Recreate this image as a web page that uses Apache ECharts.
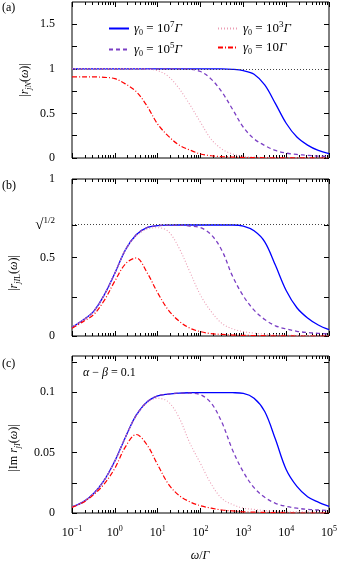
<!DOCTYPE html>
<html>
<head>
<meta charset="utf-8">
<script src="https://cdn.jsdelivr.net/npm/echarts@6/dist/echarts.min.js"></script>
<style>
  html, body { margin: 0; padding: 0; background: #fff; }
  #chart { width: 340px; height: 564px; }
</style>
</head>
<body>
<div id="chart"></div>
<script>
// frequency grid (omega / Gamma), quarter decades
const omega = [0.1, 0.178, 0.316, 0.562, 1, 1.78, 3.16, 5.62, 10, 17.8, 31.6, 56.2,
  100, 178, 316, 562, 1000, 1780, 3160, 5620, 10000, 17800, 31600, 56200, 100000];

const gammaNames = ['γ0 = 10^7 Γ', 'γ0 = 10^5 Γ', 'γ0 = 10^3 Γ', 'γ0 = 10 Γ'];

// (a) |r_jN(omega)|
const rjN_g7 = [1, 1, 1, 1, 1, 1, 1, 1, 1, 1, 1, 1, 1, 1, 1, 0.995, 0.98, 0.94, 0.82, 0.61, 0.39, 0.235, 0.145, 0.085, 0.05];
const rjN_g5 = [1, 1, 1, 1, 1, 1, 1, 1, 1, 1, 1, 0.995, 0.97, 0.885, 0.74, 0.545, 0.345, 0.215, 0.14, 0.085, 0.055, 0.04, 0.03, 0.022, 0.016];
const rjN_g3 = [1, 1, 1, 1, 1, 1, 1, 0.995, 0.98, 0.915, 0.78, 0.6, 0.4, 0.21, 0.1, 0.045, 0.02, 0.01, 0.006, 0.004, 0.003, 0.002, 0.002, 0.001, 0.001];
const rjN_g1 = [0.91, 0.91, 0.91, 0.905, 0.89, 0.83, 0.745, 0.585, 0.38, 0.245, 0.145, 0.09, 0.045, 0.025, 0.015, 0.01, 0.006, 0.004, 0.003, 0.002, 0.001, 0.001, 0.001, 0, 0];

// (b) |r_jIL(omega)|
const rjIL_g7 = [0.055, 0.1, 0.155, 0.26, 0.4, 0.55, 0.645, 0.69, 0.703, 0.706, 0.707, 0.707, 0.707, 0.707, 0.707, 0.707, 0.7, 0.67, 0.6, 0.45, 0.29, 0.18, 0.115, 0.07, 0.04];
const rjIL_g5 = [0.055, 0.1, 0.155, 0.26, 0.4, 0.55, 0.645, 0.69, 0.703, 0.706, 0.706, 0.7, 0.69, 0.645, 0.545, 0.38, 0.255, 0.165, 0.105, 0.065, 0.045, 0.03, 0.022, 0.017, 0.013];
const rjIL_g3 = [0.055, 0.1, 0.155, 0.26, 0.4, 0.55, 0.635, 0.68, 0.69, 0.665, 0.56, 0.41, 0.26, 0.155, 0.08, 0.045, 0.028, 0.018, 0.012, 0.008, 0.005, 0.004, 0.003, 0.002, 0.002];
const rjIL_g1 = [0.05, 0.09, 0.135, 0.225, 0.35, 0.46, 0.497, 0.405, 0.275, 0.165, 0.095, 0.05, 0.028, 0.015, 0.01, 0.006, 0.004, 0.003, 0.002, 0.001, 0.001, 0, 0, 0, 0];

// (c) |Im r_jI(omega)|, alpha - beta = 0.1
const imrjI_g7 = [0.005, 0.009, 0.016, 0.027, 0.043, 0.063, 0.081, 0.092, 0.097, 0.0985, 0.0993, 0.0996, 0.0997, 0.0997, 0.0997, 0.0996, 0.099, 0.095, 0.084, 0.061, 0.036, 0.022, 0.0135, 0.009, 0.0055];
const imrjI_g5 = [0.005, 0.009, 0.016, 0.027, 0.043, 0.063, 0.081, 0.092, 0.097, 0.0985, 0.0993, 0.0992, 0.098, 0.091, 0.075, 0.052, 0.034, 0.021, 0.013, 0.008, 0.0055, 0.004, 0.003, 0.0025, 0.002];
const imrjI_g3 = [0.005, 0.009, 0.016, 0.027, 0.043, 0.063, 0.08, 0.091, 0.095, 0.092, 0.079, 0.058, 0.041, 0.024, 0.012, 0.007, 0.004, 0.003, 0.002, 0.0015, 0.001, 0.001, 0.001, 0.0005, 0.0005];
const imrjI_g1 = [0.0047, 0.0085, 0.015, 0.024, 0.037, 0.055, 0.065, 0.0565, 0.04, 0.024, 0.0145, 0.0093, 0.006, 0.004, 0.0025, 0.0017, 0.001, 0.0007, 0.0005, 0.0003, 0.0002, 0, 0, 0, 0];

// axis ticks
const xTickExponents = [-1, 0, 1, 2, 3, 4, 5];
const xMinorSteps = [2, 3, 4, 5, 6, 7, 8, 9];
const yTicksA = [0, 0.25, 0.5, 0.75, 1, 1.25, 1.5];
const yLabelsA = [0, 0.5, 1, 1.5];
const yTicksB = [0, 0.25, 0.5, Math.SQRT1_2, 1];
const yLabelsB = [0, 0.5, Math.SQRT1_2, 1];
const yTicksC = [0, 0.025, 0.05, 0.075, 0.1, 0.125];
const yLabelsC = [0, 0.05, 0.1];
const refLevels = [1, Math.SQRT1_2, null];

const serif = "'Liberation Serif', 'DejaVu Serif', serif";
const rich = {
  i: { fontFamily: serif, fontStyle: 'italic', fontSize: 12, lineHeight: 16, color: '#000' },
  n: { fontFamily: serif, fontSize: 12, lineHeight: 16, color: '#000' },
  li: { fontFamily: serif, fontStyle: 'italic', fontSize: 13, lineHeight: 17, color: '#000' },
  ln: { fontFamily: serif, fontSize: 13, lineHeight: 17, color: '#000' },
  rad: { fontFamily: serif, fontSize: 15, lineHeight: 17, color: '#000' },
  sub: { fontFamily: serif, fontSize: 8, lineHeight: 10, verticalAlign: 'bottom', color: '#000' },
  isub: { fontFamily: serif, fontStyle: 'italic', fontSize: 8, lineHeight: 10, verticalAlign: 'bottom', color: '#000' },
  sup: { fontFamily: serif, fontSize: 8, lineHeight: 10, verticalAlign: 'top', color: '#000' },
  lsup: { fontFamily: serif, fontSize: 9, lineHeight: 11, verticalAlign: 'top', color: '#000' }
};

const panels = [
  { top: 2, height: 156, max: 1.75, ticks: yTicksA, labels: yLabelsA, curves: [rjN_g7, rjN_g5, rjN_g3, rjN_g1] },
  { top: 179, height: 157, max: 1, ticks: yTicksB, labels: yLabelsB, curves: [rjIL_g7, rjIL_g5, rjIL_g3, rjIL_g1] },
  { top: 356, height: 157, max: 0.13, ticks: yTicksC, labels: yLabelsC, curves: [imrjI_g7, imrjI_g5, imrjI_g3, imrjI_g1] }
];

const lineStyles = [
  { color: '#0000ff', type: 'solid', width: 1.3 },
  { color: '#7b3fc4', type: [4, 3], width: 1.3 },
  { color: '#eb9db4', type: [1, 2], width: 1.1 },
  { color: '#ff0000', type: [5, 2, 1, 2], width: 1.2 }
];

const xMinorTicks = [];
xTickExponents.slice(0, -1).forEach(e => {
  xMinorSteps.forEach(m => xMinorTicks.push(e + Math.log10(m)));
});

function expLabel (v) {
  const e = v < 0 ? '−' + (-v) : String(v);
  return '{n|10}{sup|' + e + '}';
}

function yLabel (v) {
  if (Math.abs(v - Math.SQRT1_2) < 1e-9) return '{rad|√}{lsup|1/2}';
  return '{n|' + String(v) + '}';
}

function legendLabel (name) {
  const m = name.match(/10\^?(\d*) Γ/);
  return '{li|γ}{sub|0}{ln| = 10}' + (m[1] ? '{lsup|' + m[1] + '}' : '') + '{li|Γ}';
}

const grid = [], xAxis = [], yAxis = [], series = [];
const tickLine = { color: '#000', width: 1 };

panels.forEach((p, pi) => {
  grid.push({ left: 72, right: 11, top: p.top, height: p.height, show: true, borderColor: '#000', borderWidth: 1 });
  const xi = xAxis.length;
  // data axis (log)
  xAxis.push({ type: 'log', gridIndex: pi, min: 0.1, max: 100000, logBase: 10, show: false });
  // tick axes in log10 space
  ['bottom', 'top'].forEach(pos => {
    xAxis.push({
      type: 'value', gridIndex: pi, position: pos, min: -1, max: 5, interval: 1,
      axisLine: { show: false, onZero: false }, splitLine: { show: false },
      axisTick: { inside: true, length: 5, lineStyle: tickLine },
      axisLabel: {
        show: pos === 'bottom' && pi === 2, margin: 12,
        formatter: expLabel, rich: rich
      }
    });
    xAxis.push({
      type: 'value', gridIndex: pi, position: pos, min: -1, max: 5,
      axisLine: { show: false, onZero: false }, splitLine: { show: false },
      axisTick: { inside: true, length: 3, lineStyle: tickLine, customValues: xMinorTicks },
      axisLabel: { show: false }
    });
  });
  const yi = yAxis.length;
  ['left', 'right'].forEach(pos => {
    yAxis.push({
      type: 'value', gridIndex: pi, position: pos, min: 0, max: p.max,
      axisLine: { show: false, onZero: false }, splitLine: { show: false },
      axisTick: { inside: true, length: 5, lineStyle: tickLine, customValues: p.ticks },
      axisLabel: {
        show: pos === 'left', customValues: p.labels, margin: 17,
        formatter: yLabel, rich: rich
      }
    });
  });
  p.curves.forEach((vals, ci) => {
    const s = {
      name: gammaNames[ci], type: 'line', xAxisIndex: xi, yAxisIndex: yi,
      data: omega.map((w, k) => [w, vals[k]]),
      smooth: 0.35, symbol: 'none', clip: true,
      lineStyle: lineStyles[ci], itemStyle: { color: lineStyles[ci].color },
      z: 3 + ci
    };
    if (ci === 0 && refLevels[pi] !== null) {
      s.markLine = {
        silent: true, symbol: 'none', label: { show: false },
        lineStyle: { color: '#444', type: [1, 2], width: 1 },
        data: [{ yAxis: refLevels[pi] }]
      };
    }
    series.push(s);
  });
});

function vText (x, y, text) {
  return {
    type: 'text', x: x, y: y, rotation: Math.PI / 2,
    style: { text: text, rich: rich, align: 'center', verticalAlign: 'middle' }
  };
}

function hText (x, y, text, align) {
  return {
    type: 'text', x: x, y: y,
    style: { text: text, rich: rich, align: align || 'left', verticalAlign: 'middle' }
  };
}

const legendCommon = {
  orient: 'vertical', itemWidth: 20, itemHeight: 10, itemGap: 4,
  formatter: legendLabel, textStyle: { rich: rich },
  itemStyle: { opacity: 0 }
};

const chart = echarts.init(document.getElementById('chart'));
chart.setOption({
  animation: false,
  backgroundColor: '#fff',
  grid: grid,
  xAxis: xAxis,
  yAxis: yAxis,
  legend: [
    Object.assign({ left: 103, top: 15, data: [gammaNames[0], gammaNames[1]] }, legendCommon),
    Object.assign({ left: 212, top: 15, data: [gammaNames[2], gammaNames[3]] }, legendCommon)
  ],
  graphic: [
    hText(2, 8, '{n|(a)}'),
    hText(2, 186, '{n|(b)}'),
    hText(2, 364, '{n|(c)}'),
    vText(25, 80, '{n||}{i|r}{isub|jN}{n|(}{i|ω}{n|)|}'),
    vText(14, 273, '{n||}{i|r}{isub|jI}{sub|L}{n|(}{i|ω}{n|)|}'),
    vText(14, 448, '{n||Im }{i|r}{isub|jI}{n|(}{i|ω}{n|)|}'),
    hText(83, 373, '{i|α}{n| − }{i|β}{n| = 0.1}'),
    hText(200, 556, '{i|ω}{n|/}{i|Γ}', 'center')
  ],
  series: series
});
</script>
</body>
</html>
